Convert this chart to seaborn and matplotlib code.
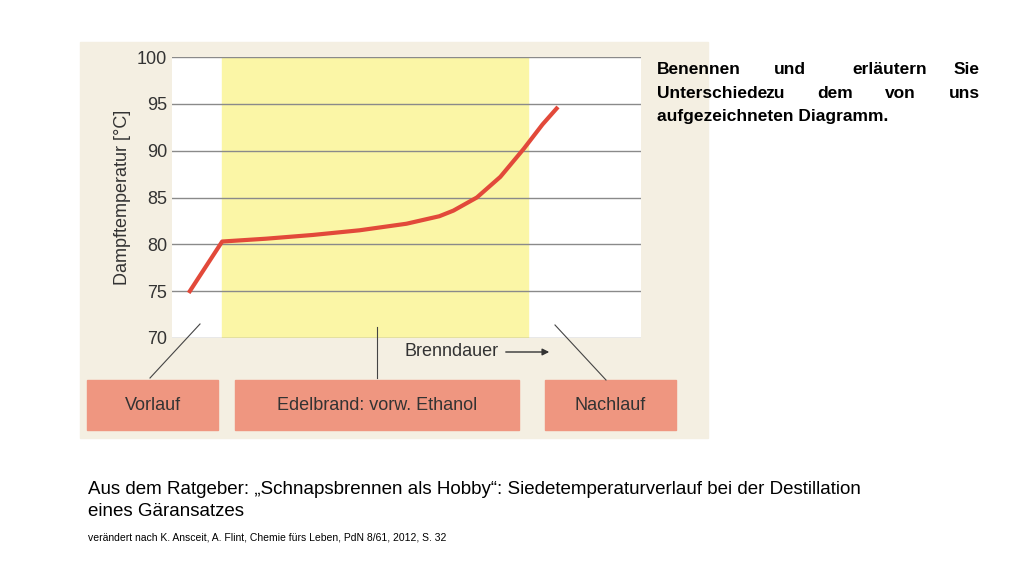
import matplotlib
matplotlib.use("Agg")
import matplotlib.pyplot as plt
from matplotlib.patches import Rectangle
import seaborn as sns
import pandas as pd
import numpy as np

plt.rcParams["font.family"] = "Liberation Sans"

zeit = [3.8, 10.7, 20, 30, 40, 50, 57, 60, 65, 70, 75, 79, 82]
temperatur = [75.0, 80.3, 80.6, 81.0, 81.5, 82.2, 83.0, 83.6, 85.0, 87.2, 90.2, 92.8, 94.5]
yticks = [70, 75, 80, 85, 90, 95, 100]
phasen = ["Vorlauf", "Edelbrand: vorw. Ethanol", "Nachlauf"]
df = pd.DataFrame({"zeit": zeit, "temp": temperatur})

fig = plt.figure(figsize=(10.24, 5.76), dpi=100)
W, H = 1024, 576
def fx(px): return px / W
def fy(py): return 1 - py / H

fig.patches.append(Rectangle((fx(80), fy(438)), fx(708) - fx(80), fy(42) - fy(438),
                             transform=fig.transFigure, color="#f4efe2", zorder=-5))

ax = fig.add_axes([fx(172), fy(338), fx(641) - fx(172), fy(57) - fy(338)])
ax.set_zorder(1)
ax.set_facecolor("white")
ax.axvspan(10.7, 75.9, color="#fbf6a6", zorder=0)
for y in yticks:
    ax.axhline(y, color="#8a8a8a", lw=1, zorder=1)
sns.lineplot(data=df, x="zeit", y="temp", ax=ax, color="#e2493a", lw=3, zorder=3)
ax.set_xlim(0, 100)
ax.set_ylim(70, 100)
ax.set_yticks(yticks)
ax.set_xticks([])
ax.set_xlabel("")
ax.set_ylabel("Dampftemperatur [°C]", fontsize=13, color="#333333")
ax.tick_params(axis="y", length=0, labelsize=13, labelcolor="#333333")
for s in ax.spines.values():
    s.set_visible(False)

fig.text(fx(405), fy(352), "Brenndauer", fontsize=13, color="#333333", va="center")
fig.add_artist(matplotlib.patches.FancyArrowPatch((fx(503), fy(352)), (fx(552), fy(352)),
               transform=fig.transFigure, arrowstyle="-|>", mutation_scale=10, color="#333333"))

boxes = [(87, 218), (235, 519), (545, 676)]
anchors = [((200, 324), (150, 378)), ((377, 327), (377, 378)), ((555, 325), (606, 380))]
for (x0, x1), name, (a, b) in zip(boxes, phasen, anchors):
    fig.patches.append(Rectangle((fx(x0), fy(430)), fx(x1) - fx(x0), fy(380) - fy(430),
                                 transform=fig.transFigure, color="#ef9680", zorder=1))
    fig.text(fx((x0 + x1) / 2), fy(405), name, ha="center", va="center", fontsize=13, color="#333333")
    fig.add_artist(plt.Line2D([fx(a[0]), fx(b[0])], [fy(a[1]), fy(b[1])], color="#444444", lw=0.8,
                              transform=fig.transFigure))

lines = [(["Benennen", "und", "erläutern", "Sie"], 70), (["Unterschiede", "zu", "dem", "von", "uns"], 93)]
for words, y in lines:
    n = len(words)
    for i, w in enumerate(words):
        x = 657 + (980 - 657) * i / (n - 1)
        ha = "left" if i == 0 else ("right" if i == n - 1 else "center")
        if 0 < i < n - 1:
            # approximate centers for justified text
            x = {4: [657, 790, 890, 980], 5: [657, 775, 835, 900, 980]}[n][i]
        fig.text(fx(x), fy(y), w, fontsize=12.5, weight="bold", va="center", ha=ha)
fig.text(fx(657), fy(116), "aufgezeichneten Diagramm.", fontsize=12.5, weight="bold", va="center")

fig.text(fx(88), fy(490), "Aus dem Ratgeber: „Schnapsbrennen als Hobby“: Siedetemperaturverlauf bei der Destillation",
         fontsize=13.5, va="center")
fig.text(fx(88), fy(511), "eines Gäransatzes", fontsize=13.5, va="center")
fig.text(fx(88), fy(538), "verändert nach K. Ansceit, A. Flint, Chemie fürs Leben, PdN 8/61, 2012, S. 32",
         fontsize=7.5, va="center")

fig.savefig("out.png", dpi=100)
